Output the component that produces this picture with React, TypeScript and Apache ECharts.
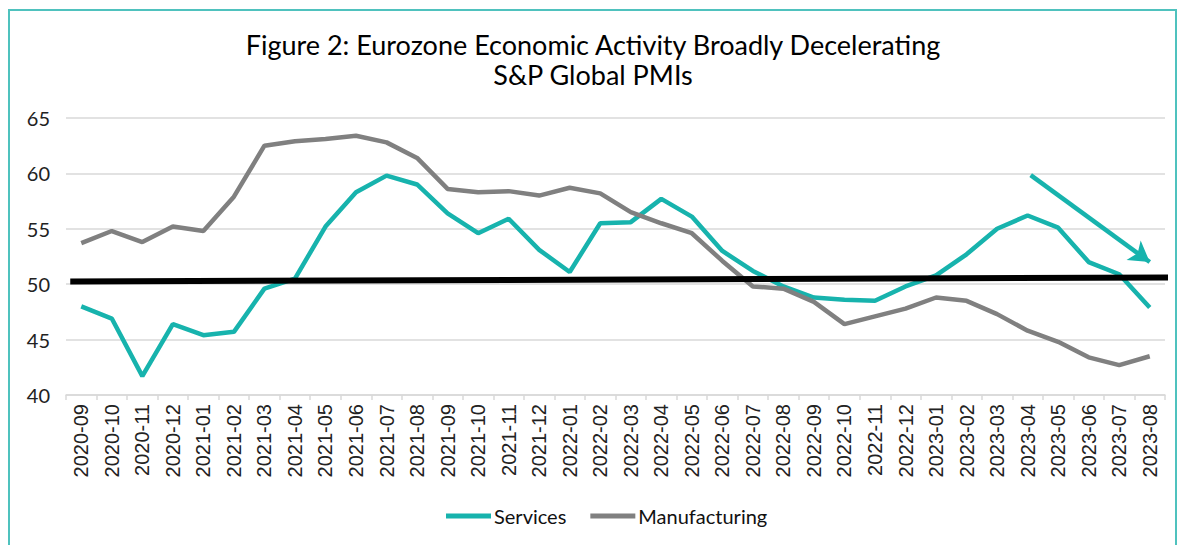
import React, { useEffect, useRef } from "react";
import * as echarts from "echarts";

const months = [
  "2020-09","2020-10","2020-11","2020-12",
  "2021-01","2021-02","2021-03","2021-04","2021-05","2021-06","2021-07","2021-08","2021-09","2021-10","2021-11","2021-12",
  "2022-01","2022-02","2022-03","2022-04","2022-05","2022-06","2022-07","2022-08","2022-09","2022-10","2022-11","2022-12",
  "2023-01","2023-02","2023-03","2023-04","2023-05","2023-06","2023-07","2023-08",
];

const services = [
  48.0, 46.9, 41.7, 46.4,
  45.4, 45.7, 49.6, 50.5, 55.2, 58.3, 59.8, 59.0, 56.4, 54.6, 55.9, 53.1,
  51.1, 55.5, 55.6, 57.7, 56.1, 53.0, 51.2, 49.8, 48.8, 48.6, 48.5, 49.8,
  50.8, 52.7, 55.0, 56.2, 55.1, 52.0, 50.9, 47.9,
];

const manufacturing = [
  53.7, 54.8, 53.8, 55.2,
  54.8, 57.9, 62.5, 62.9, 63.1, 63.4, 62.8, 61.4, 58.6, 58.3, 58.4, 58.0,
  58.7, 58.2, 56.5, 55.5, 54.6, 52.1, 49.8, 49.6, 48.4, 46.4, 47.1, 47.8,
  48.8, 48.5, 47.3, 45.8, 44.8, 43.4, 42.7, 43.5,
];

// Hand-drawn reference line (slightly sloped) and trend arrow, in [position, value] units
const refLine = [[0.14, 50.25], [36.2, 50.6]];
const arrowStart = [31.6, 59.85];
const arrowEnd = [35.5, 52.0];

const yTicks = { min: 40, max: 65, interval: 5 };

const TEAL = "#17b3ad";
const GREY = "#808080";

export default function App() {
  const ref = useRef<HTMLDivElement>(null);
  useEffect(() => {
    if (!ref.current) return;
    const chart = echarts.init(ref.current, null, { renderer: "svg" });
    chart.setOption({
      animation: false,
      backgroundColor: "#ffffff",
      title: {
        text: "Figure 2: Eurozone Economic Activity Broadly Decelerating\nS&P Global PMIs",
        left: "center",
        top: 24,
        textStyle: {
          fontFamily: "Lato",
          fontSize: 27,
          fontWeight: "normal",
          color: "#000000",
          lineHeight: 30,
        },
      },
      graphic: [
        {
          type: "rect",
          shape: { x: 9, y: 10, width: 1167, height: 600 },
          style: { fill: "none", stroke: "#4fc2be", lineWidth: 2 },
          silent: true,
        },
      ],
      legend: {
        data: ["Services", "Manufacturing"],
        bottom: 14,
        left: 441,
        icon: "rect",
        itemWidth: 45,
        itemHeight: 5,
        itemGap: 24,
        textStyle: { fontFamily: "Lato", fontSize: 20, color: "#111", padding: [0, 0, 0, -2] },
      },
      grid: { left: 66, right: 21, top: 118, bottom: 150, containLabel: false },
      xAxis: [
        {
          type: "category",
          data: months,
          boundaryGap: true,
          axisLine: { lineStyle: { color: "#d9d9d9", width: 1.5 } },
          axisTick: { show: true, length: 5, lineStyle: { color: "#d9d9d9", width: 1.5 } },
          axisLabel: {
            rotate: 90,
            interval: 0,
            fontFamily: "Liberation Sans",
            fontSize: 20,
            color: "#222",
            margin: 9,
          },
        },
        {
          type: "value",
          min: 0,
          max: 36,
          show: false,
        },
      ],
      yAxis: {
        type: "value",
        min: yTicks.min,
        max: yTicks.max,
        interval: yTicks.interval,
        axisLine: { show: false },
        axisTick: { show: false },
        splitLine: { lineStyle: { color: "#d9d9d9", width: 1.5 } },
        axisLabel: { fontFamily: "Lato", fontSize: 20, color: "#222", margin: 16 },
      },
      series: [
        {
          name: "Services",
          type: "line",
          data: services,
          symbol: "none",
          lineStyle: { color: TEAL, width: 4.5 },
          itemStyle: { color: TEAL },
        },
        {
          name: "Manufacturing",
          type: "line",
          data: manufacturing,
          symbol: "none",
          lineStyle: { color: GREY, width: 4.5 },
          itemStyle: { color: GREY },
        },
        {
          name: "Ref",
          type: "line",
          xAxisIndex: 1,
          data: refLine,
          symbol: "none",
          clip: false,
          lineStyle: { color: "#000000", width: 6 },
          z: 5,
          markLine: {
            silent: true,
            symbol: ["none", "arrow"],
            symbolSize: [18, 20],
            label: { show: false },
            lineStyle: { color: TEAL, width: 4.5, type: "solid" },
            data: [[{ coord: arrowStart }, { coord: arrowEnd }]],
          },
        },
      ],
    });
    return () => chart.dispose();
  }, []);
  return (
    <div
      ref={ref}
      style={{ position: "fixed", left: 0, top: 0, width: 1186, height: 545 }}
    />
  );
}
